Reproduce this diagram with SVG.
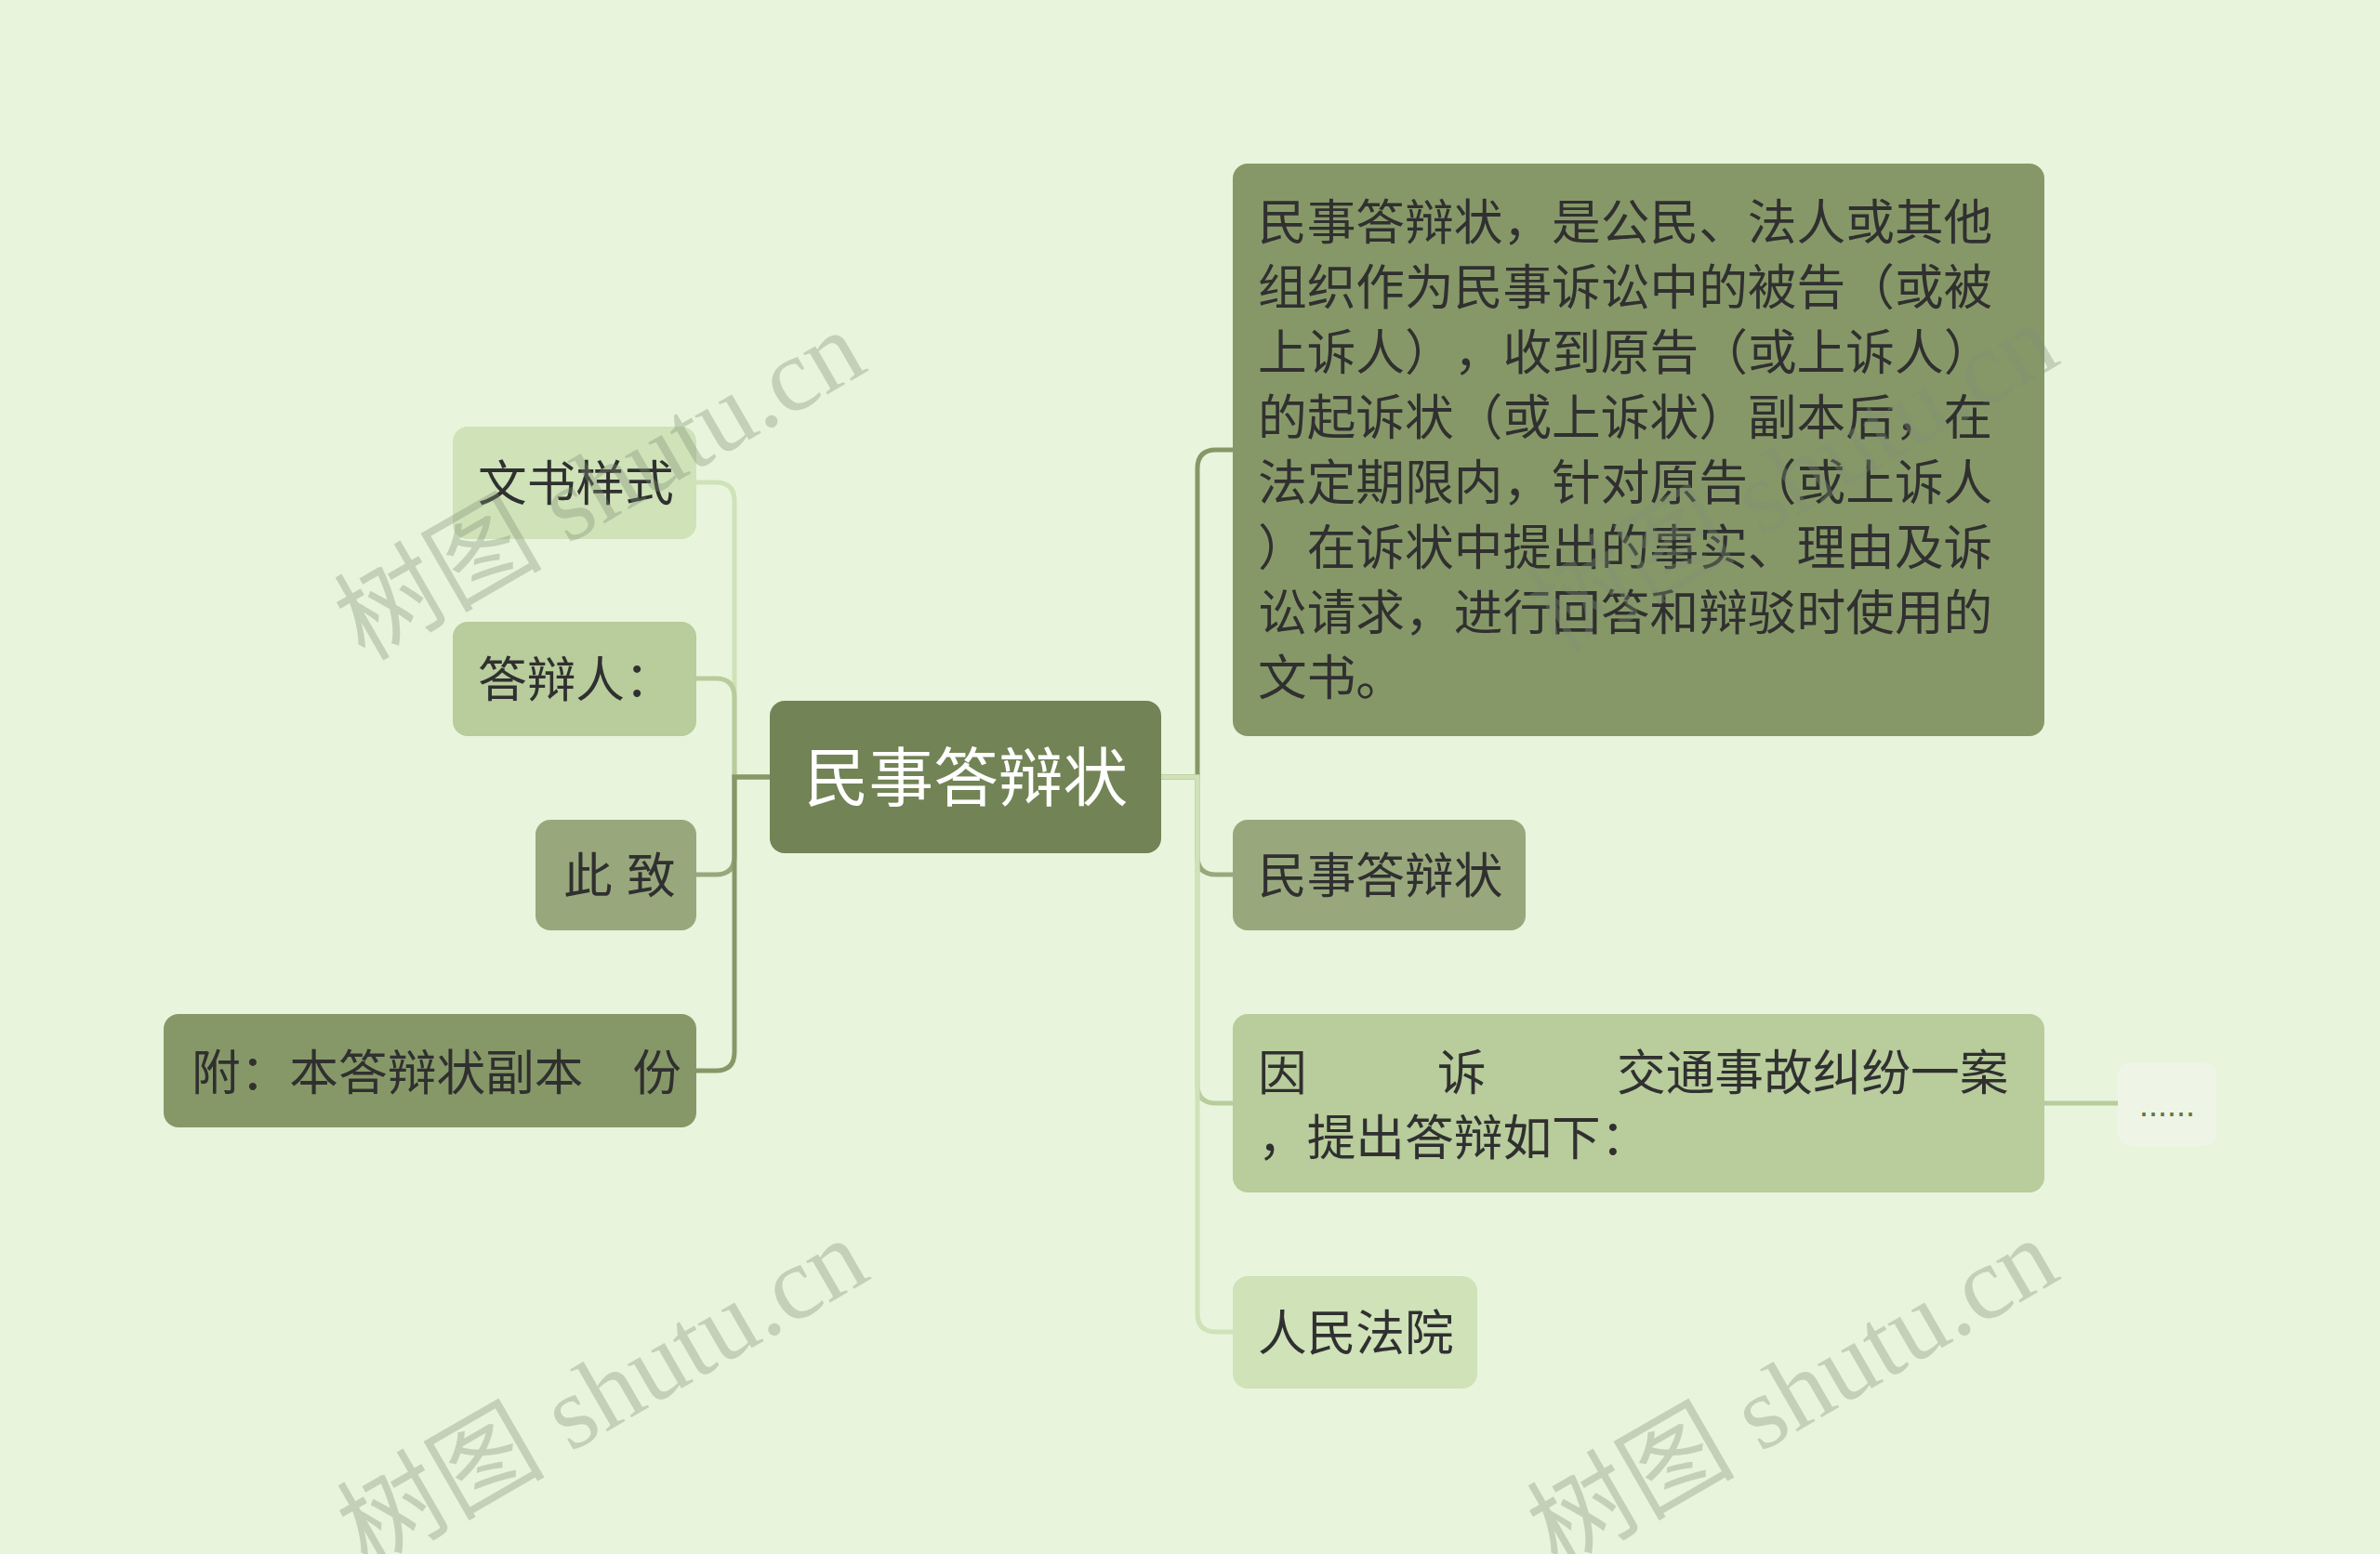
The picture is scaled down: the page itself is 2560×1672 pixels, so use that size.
<svg xmlns="http://www.w3.org/2000/svg" width="2560" height="1672" viewBox="0 0 2560 1672">
<style>
.t{font-family:"Noto Sans CJK SC","Noto Sans",sans-serif;font-size:52.7px;fill:#303030;text-spacing-trim:space-all}
.c{fill:none;stroke-width:5;stroke-linecap:round}
.wm{font-family:"Liberation Serif","Noto Sans CJK SC",serif;font-size:112px;fill:#7f8f74;opacity:0.35}
</style>
<rect width="2560" height="1672" fill="#e8f5dc"/>
<g id="connectors">
<path class="c" stroke="#cfe2b8" d="M828 836 H790 V539 Q790 519 770 519 H749"/>
<path class="c" stroke="#b8cc9c" d="M828 836 H790 V750 Q790 730 770 730 H749"/>
<path class="c" stroke="#98a87c" d="M828 836 H790 V921 Q790 941 770 941 H749"/>
<path class="c" stroke="#879868" d="M828 836 H790 V1132 Q790 1152 770 1152 H749"/>
<path class="c" stroke="#879868" d="M1249 836 H1288 V504 Q1288 484 1308 484 H1326"/>
<path class="c" stroke="#98a87c" d="M1249 836 H1288 V921 Q1288 941 1308 941 H1326"/>
<path class="c" stroke="#b8cc9c" d="M1249 836 H1288 V1167 Q1288 1187 1308 1187 H1326"/>
<path class="c" stroke="#cfe2b8" d="M1249 836 H1288 V1413 Q1288 1433 1308 1433 H1326"/>
<path class="c" stroke="#b8cc9c" d="M2199 1187 H2278"/>
</g>
<g id="root">
<rect x="828" y="754" width="421" height="164" rx="16" fill="#728355"/>
<text x="1039" y="862" text-anchor="middle" style="font-family:'Noto Sans CJK SC',sans-serif;font-size:69.6px;fill:#ffffff">民事答辩状</text>
</g>
<g id="n-wenshu">
<rect x="487" y="459" width="262" height="121" rx="16" fill="#cfe2b8"/>
<text class="t" x="514" y="539">文书样式</text>
</g>
<g id="n-dabianren">
<rect x="487" y="669" width="262" height="123" rx="16" fill="#b8cc9c"/>
<text class="t" x="514" y="750">答辩人：</text>
</g>
<g id="n-cizhi">
<rect x="576" y="882" width="173" height="119" rx="16" fill="#98a87c"/>
<text class="t" y="961"><tspan x="606">此</tspan><tspan x="674">致</tspan></text>
</g>
<g id="n-fu">
<rect x="176" y="1091" width="573" height="122" rx="16" fill="#879868"/>
<text class="t" x="206" y="1173">附：本答辩状副本　份</text>
</g>
<g id="n-desc">
<rect x="1326" y="176" width="873" height="616" rx="16" fill="#879868"/>
<text class="t">
<tspan x="1353" y="258">民事答辩状，是公民、法人或其他</tspan>
<tspan x="1353" y="328">组织作为民事诉讼中的被告（或被</tspan>
<tspan x="1353" y="398">上诉人）</tspan><tspan x="1563.8" y="398">，</tspan><tspan x="1616.5" y="398">收到原告（或上诉人）</tspan>
<tspan x="1353" y="468">的起诉状（或上诉状）副本后，在</tspan>
<tspan x="1353" y="538">法定期限内，针对原告（或上诉人</tspan>
<tspan x="1353" y="608">）在诉状中提出的事实、理由及诉</tspan>
<tspan x="1353" y="678">讼请求，进行回答和辩驳时使用的</tspan>
<tspan x="1353" y="748">文书。</tspan>
</text>
</g>
<g id="n-title2">
<rect x="1326" y="882" width="315" height="119" rx="16" fill="#98a87c"/>
<text class="t" x="1353" y="961">民事答辩状</text>
</g>
<g id="n-yinsu">
<rect x="1326" y="1091" width="873" height="192" rx="16" fill="#b8cc9c"/>
<text class="t"><tspan x="1353" y="1173">因</tspan><tspan x="1546" y="1173">诉</tspan><tspan x="1739" y="1173">交通事故纠纷一案</tspan><tspan x="1353" y="1243">，提出答辩如下：</tspan></text>
</g>
<g id="n-court">
<rect x="1326" y="1373" width="263" height="121" rx="16" fill="#cfe2b8"/>
<text class="t" x="1353" y="1453">人民法院</text>
</g>
<g id="n-more">
<rect x="2278" y="1143" width="106" height="90" rx="14" fill="#eef4e6"/>
<text x="2331" y="1201" text-anchor="middle" style="font-family:'Liberation Sans',sans-serif;font-size:36px;fill:#5d7a3a">......</text>
</g>
<g id="watermarks">
<text class="wm" transform="translate(645 522) rotate(-30)" x="0" y="38" text-anchor="middle">树图 shutu.cn</text>
<text class="wm" transform="translate(648 1499) rotate(-30)" x="0" y="38" text-anchor="middle">树图 shutu.cn</text>
<text class="wm" transform="translate(1928 514) rotate(-30)" x="0" y="38" text-anchor="middle">树图 shutu.cn</text>
<text class="wm" transform="translate(1928 1499) rotate(-30)" x="0" y="38" text-anchor="middle">树图 shutu.cn</text>
</g>
</svg>
